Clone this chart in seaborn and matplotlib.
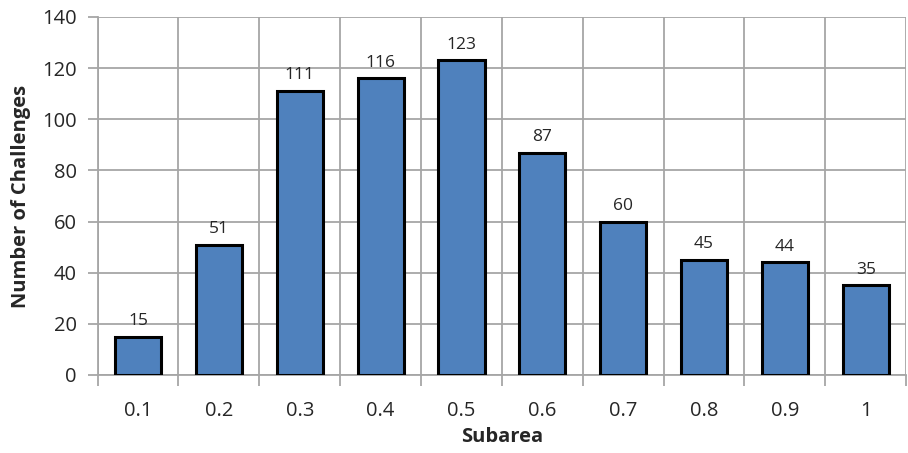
import matplotlib
matplotlib.use("Agg")
import matplotlib.pyplot as plt
import seaborn as sns
import numpy as np

subarea = ["0.1", "0.2", "0.3", "0.4", "0.5", "0.6", "0.7", "0.8", "0.9", "1"]
challenges = [15, 51, 111, 116, 123, 87, 60, 45, 44, 35]
y_ticks = [0, 20, 40, 60, 80, 100, 120, 140]

sns.set_theme(style="white")
plt.rcParams["font.family"] = ["Open Sans", "DejaVu Sans"]

grid_col = "#a6a6a6"
text_col = "#262626"
fig = plt.figure(figsize=(9.08, 4.53), dpi=100)
ax = fig.add_axes([0.1075, 0.1722, 0.8905, 0.7903])

sns.barplot(x=subarea, y=challenges, order=subarea, color="#4f81bd",
            edgecolor="black", linewidth=2.2, width=0.57, saturation=1, ax=ax, zorder=3)

ax.set_ylim(0, 140)
ax.set_xlim(-0.5, len(subarea) - 0.5)
ax.set_yticks(y_ticks)

# category boundaries carry the vertical gridlines and tick marks
ax.set_xticks(np.arange(-0.5, len(subarea), 1.0), minor=True)
ax.grid(False)
ax.grid(axis="y", which="major", color=grid_col, linewidth=1.3, zorder=0)
ax.grid(axis="x", which="minor", color=grid_col, linewidth=1.3, zorder=0)
ax.set_axisbelow(True)

ax.tick_params(axis="x", which="major", length=0, pad=19, labelsize=14.5, colors=text_col)
ax.tick_params(axis="x", which="minor", length=8, width=1.3, color=grid_col, bottom=True)
ax.tick_params(axis="y", which="major", length=7, width=1.3, color=grid_col, left=True,
               pad=8, labelsize=14.5, labelcolor=text_col)

for s in ["top", "right"]:
    ax.spines[s].set_visible(False)
for s in ["left", "bottom"]:
    ax.spines[s].set_color(grid_col)
    ax.spines[s].set_linewidth(1.3)

for i, v in enumerate(challenges):
    ax.text(i, v + 3, str(v), ha="center", va="bottom", fontsize=12.5, color=text_col)

ax.set_xlabel("Subarea", fontsize=14.5, fontweight="bold", color=text_col, labelpad=4)
ax.set_ylabel("Number of Challenges", fontsize=14.5, fontweight="bold", color=text_col, labelpad=8)

fig.savefig("out.png", dpi=100)
